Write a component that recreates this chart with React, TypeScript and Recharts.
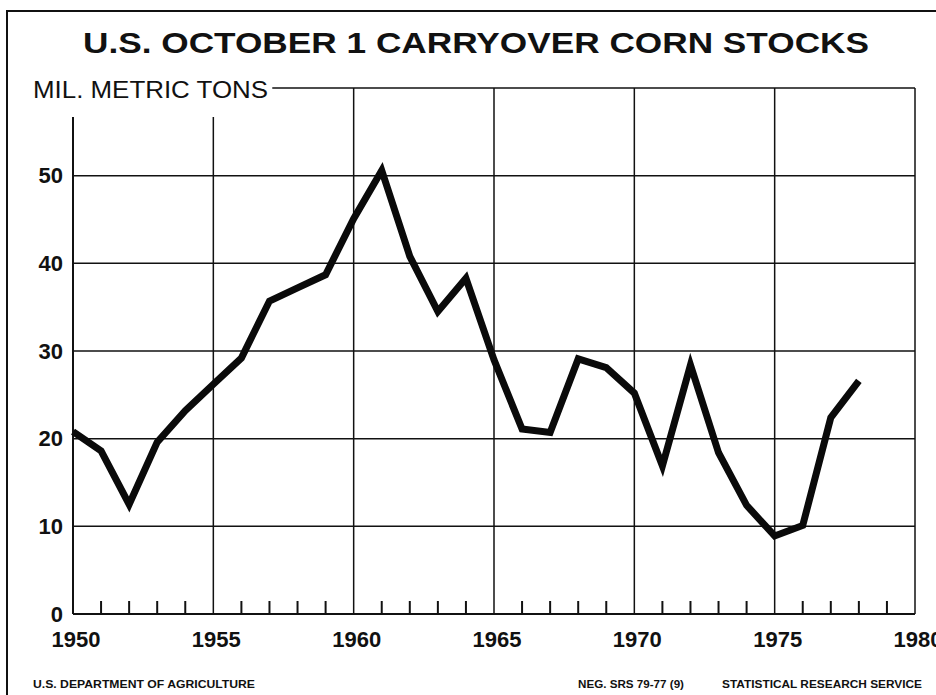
import { LineChart, Line, XAxis, YAxis, ReferenceLine } from "recharts";

// U.S. October 1 carryover corn stocks, million metric tons
const years = [
  1950, 1951, 1952, 1953, 1954, 1955, 1956, 1957, 1958, 1959,
  1960, 1961, 1962, 1963, 1964, 1965, 1966, 1967, 1968, 1969,
  1970, 1971, 1972, 1973, 1974, 1975, 1976, 1977, 1978,
];
const stocks = [
  20.8, 18.6, 12.5, 19.6, 23.2, 26.2, 29.2, 35.7, 37.2, 38.7,
  45.1, 50.6, 40.8, 34.5, 38.3, 29.0, 21.1, 20.7, 29.1, 28.1,
  25.2, 16.9, 28.4, 18.4, 12.4, 8.9, 10.1, 22.4, 26.6,
];

const yTicks = [0, 10, 20, 30, 40, 50];
const xTicks = Array.from({ length: 31 }, (_, i) => 1950 + i);
const gridValues = [10, 20, 30, 40, 50];
const fullGridYears = [1960, 1965, 1970, 1975, 1980];
const shortGridYears = [1950, 1955];

const data = years.map((year, i) => ({ year, stocks: stocks[i] }));

const font = "'Liberation Sans', Arial, Helvetica, sans-serif";

const YearTick = (props: any) => {
  const { x, y, payload } = props;
  const v = payload.value as number;
  if (v % 5 === 0) {
    return (
      <text x={x + 3} y={y + 33} textAnchor="middle" fontSize={22} fontWeight={700} fontFamily={font} fill="#111">
        {v}
      </text>
    );
  }
  return <line x1={x} y1={y} x2={x} y2={y - 13} stroke="#111" strokeWidth={2} />;
};

const App = () => {
  return (
    <div style={{ position: "absolute", left: 0, top: 0, width: 936, height: 695, background: "#fff", overflow: "hidden" }}>
      <div style={{ position: "absolute", left: 6, top: 10, width: 940, height: 700, borderTop: "2px solid #111", borderLeft: "2px solid #111" }} />
      <LineChart width={936} height={695} data={data} margin={{ top: 88, right: 21, left: 0, bottom: 0 }}>
        <XAxis
          dataKey="year"
          type="number"
          domain={[1950, 1980]}
          ticks={xTicks}
          interval={0}
          height={81}
          tickSize={0}
          tickMargin={0}
          tick={<YearTick />}
          axisLine={{ stroke: "#111", strokeWidth: 2 }}
          tickLine={false}
        />
        <YAxis
          type="number"
          domain={[0, 60]}
          ticks={yTicks}
          interval={0}
          width={73}
          tickSize={0}
          tickMargin={10}
          axisLine={false}
          tickLine={false}
          tick={{ fontSize: 22, fontWeight: 700, fontFamily: font, fill: "#111" }}
        />
        {gridValues.map((v) => (
          <ReferenceLine key={"h" + v} y={v} stroke="#111" strokeWidth={1.5} />
        ))}
        <ReferenceLine segment={[{ x: 1957.1, y: 60 }, { x: 1980, y: 60 }]} stroke="#111" strokeWidth={1.5} />
        {fullGridYears.map((yr) => (
          <ReferenceLine key={"v" + yr} segment={[{ x: yr, y: 0 }, { x: yr, y: 60 }]} stroke="#111" strokeWidth={1.5} />
        ))}
        {shortGridYears.map((yr) => (
          <ReferenceLine key={"s" + yr} segment={[{ x: yr, y: 0 }, { x: yr, y: 56.7 }]} stroke="#111" strokeWidth={yr === 1950 ? 2 : 1.5} />
        ))}
        <Line
          type="linear"
          dataKey="stocks"
          stroke="#0a0a0a"
          strokeWidth={7}
          strokeLinejoin="miter"
          dot={false}
          isAnimationActive={false}
        />
      </LineChart>
      <svg width={936} height={695} style={{ position: "absolute", left: 0, top: 0, pointerEvents: "none" }}>
        <text x={83} y={53} fontSize={30} fontWeight={700} fontFamily={font} fill="#111" textLength={786} lengthAdjust="spacingAndGlyphs">
          U.S. OCTOBER 1 CARRYOVER CORN STOCKS
        </text>
        <text x={33} y={98} fontSize={24} fontFamily={font} fill="#111" textLength={235} lengthAdjust="spacingAndGlyphs">
          MIL. METRIC TONS
        </text>
        <text x={33} y={688} fontSize={11} fontWeight={700} fontFamily={font} fill="#111" textLength={222} lengthAdjust="spacingAndGlyphs">
          U.S. DEPARTMENT OF AGRICULTURE
        </text>
        <text x={578} y={688} fontSize={10} fontWeight={700} fontFamily={font} fill="#111" textLength={106} lengthAdjust="spacingAndGlyphs">
          NEG. SRS 79-77 (9)
        </text>
        <text x={722} y={688} fontSize={11} fontWeight={700} fontFamily={font} fill="#111" textLength={200} lengthAdjust="spacingAndGlyphs">
          STATISTICAL RESEARCH SERVICE
        </text>
      </svg>
    </div>
  );
};

export default App;
